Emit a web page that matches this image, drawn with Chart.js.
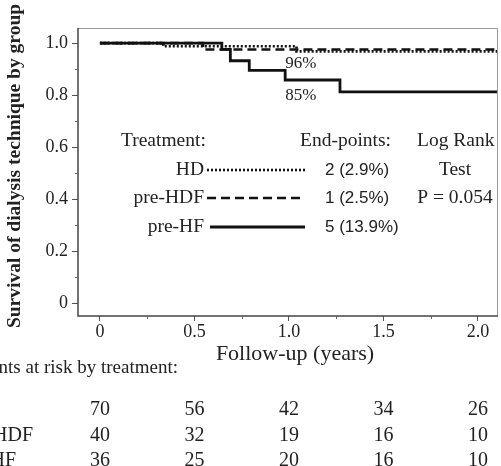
<!DOCTYPE html>
<html><head><meta charset="utf-8">
<script src="https://cdn.jsdelivr.net/npm/chart.js@4/dist/chart.umd.min.js"></script>
<style>html,body{margin:0;padding:0;background:#fff;}#wrap{width:501px;height:466px;}</style>
</head><body><div id="wrap"><canvas id="c" width="501" height="466"></canvas></div>
<script>
// Kaplan-Meier step data (time in years, survival)
const hdTimes = [0, 0.335, 1.04, 2.11];
const hdSurv  = [1.0, 0.988, 0.968, 0.968];
const hdfTimes = [0, 0.545, 2.11];
const hdfSurv  = [1.0, 0.975, 0.975];
const hfTimes = [0, 0.645, 0.69, 0.79, 0.98, 1.27, 2.11];
const hfSurv  = [1.0, 0.976, 0.932, 0.895, 0.858, 0.812, 0.812];

const xTickVals = [0, 0.5, 1.0, 1.5, 2.0];
const xTickLabels = ['0', '0.5', '1.0', '1.5', '2.0'];
const yTickVals = [0, 0.2, 0.4, 0.6, 0.8, 1.0];
const yTickLabels = ['0', '0.2', '0.4', '0.6', '0.8', '1.0'];

const groups = ['HD', 'pre-HDF', 'pre-HF'];
const endPoints = ['2 (2.9%)', '1 (2.5%)', '5 (13.9%)'];
const riskHD  = [70, 56, 42, 34, 26];
const riskHDF = [40, 32, 19, 16, 10];
const riskHF  = [36, 25, 20, 16, 10];
const curveLabels = [{x: 0.98, y: 0.92, t: '96%'}, {x: 0.98, y: 0.797, t: '85%'}];

const SERIF = '"Liberation Serif","Times New Roman",serif';
const SANS = '"Liberation Sans",Arial,sans-serif';
const TXT = '#222';

function pts(t, s) { return t.map((v, i) => ({x: v, y: s[i]})); }

const styles = [
  {dash: [2, 2], width: 2.6},
  {dash: [9, 5], width: 2.6},
  {dash: [], width: 2.8}
];

const overlay = {
  id: 'overlay',
  afterDraw(chart) {
    const ctx = chart.ctx, xs = chart.scales.x, ys = chart.scales.y, a = chart.chartArea;
    ctx.save();
    // frame
    ctx.strokeStyle = '#9a9a9a'; ctx.lineWidth = 1;
    ctx.beginPath(); ctx.moveTo(a.left, a.top + 0.5); ctx.lineTo(a.right - 0.5, a.top + 0.5); ctx.lineTo(a.right - 0.5, a.bottom); ctx.stroke();
    ctx.strokeStyle = '#444'; ctx.lineWidth = 1.5;
    ctx.beginPath(); ctx.moveTo(a.left, a.top); ctx.lineTo(a.left, a.bottom); ctx.lineTo(a.right, a.bottom); ctx.stroke();
    // minor ticks
    ctx.strokeStyle = '#666'; ctx.lineWidth = 1;
    for (let v = 0.1; v < 1.0; v += 0.2) {
      const y = Math.round(ys.getPixelForValue(v)) + 0.5;
      ctx.beginPath(); ctx.moveTo(a.left - 3, y); ctx.lineTo(a.left, y); ctx.stroke();
    }
    for (let v = 0.25; v < 2.0; v += 0.5) {
      const x = Math.round(xs.getPixelForValue(v)) + 0.5;
      ctx.beginPath(); ctx.moveTo(x, a.bottom); ctx.lineTo(x, a.bottom + 3); ctx.stroke();
    }
    // curve labels
    ctx.fillStyle = TXT; ctx.textBaseline = 'middle'; ctx.textAlign = 'left';
    ctx.font = '17px ' + SERIF;
    curveLabels.forEach(l => ctx.fillText(l.t, xs.getPixelForValue(l.x), ys.getPixelForValue(l.y)));
    // legend
    ctx.font = '19.5px ' + SERIF;
    ctx.fillText('Treatment:', 121, 141);
    ctx.fillText('End-points:', 300, 141);
    ctx.fillText('Log Rank', 417, 141);
    ctx.textAlign = 'center';
    ctx.fillText('Test', 455, 170);
    ctx.fillText('P = 0.054', 455, 198);
    const rowY = [170, 198, 227];
    groups.forEach((g, i) => {
      ctx.textAlign = 'right'; ctx.font = '19.5px ' + SERIF; ctx.fillStyle = TXT;
      ctx.fillText(g, 204, rowY[i]);
      ctx.save();
      ctx.strokeStyle = '#111'; ctx.lineWidth = styles[i].width; ctx.setLineDash(styles[i].dash);
      ctx.beginPath(); ctx.moveTo(i === 2 ? 210 : 207, rowY[i]); ctx.lineTo(305, rowY[i]); ctx.stroke();
      ctx.restore();
      ctx.textAlign = 'left'; ctx.font = '17px ' + SANS;
      ctx.fillText(endPoints[i], 325, rowY[i]);
    });
    // axis titles
    ctx.fillStyle = TXT;
    ctx.textBaseline = 'alphabetic';
    ctx.font = '22px ' + SERIF; ctx.textAlign = 'center';
    ctx.fillText('Follow-up (years)', 295, 360);
    ctx.save();
    ctx.translate(20, 166); ctx.rotate(-Math.PI / 2);
    ctx.font = 'bold 19.5px ' + SERIF;
    ctx.fillText('Survival of dialysis technique by group', 0, 0);
    ctx.restore();
    // risk table
    ctx.font = '19px ' + SERIF; ctx.textAlign = 'right';
    ctx.fillText('Patients at risk by treatment:', 178, 373);
    const tblY = [415, 441, 466];
    const lblX = [-40, 33, 16];
    [riskHD, riskHDF, riskHF].forEach((row, r) => {
      ctx.textAlign = 'right'; ctx.font = '20px ' + SERIF;
      ctx.fillText(groups[r], lblX[r], tblY[r]);
      ctx.textAlign = 'center';
      row.forEach((n, i) => ctx.fillText(String(n), xs.getPixelForValue(xTickVals[i]), tblY[r]));
    });
    ctx.restore();
  }
};

new Chart(document.getElementById('c'), {
  type: 'line',
  data: {
    datasets: [
      {label: 'HD', data: pts(hdTimes, hdSurv), borderColor: '#111', borderWidth: styles[0].width, borderDash: styles[0].dash, stepped: true, pointRadius: 0, fill: false},
      {label: 'pre-HDF', data: pts(hdfTimes, hdfSurv), borderColor: '#111', borderWidth: styles[1].width, borderDash: styles[1].dash, stepped: true, pointRadius: 0, fill: false},
      {label: 'pre-HF', data: pts(hfTimes, hfSurv), borderColor: '#111', borderWidth: styles[2].width, borderDash: styles[2].dash, stepped: true, pointRadius: 0, fill: false}
    ]
  },
  options: {
    responsive: false, animation: false, devicePixelRatio: 1,
    layout: {padding: {left: 0, right: 3, top: 28, bottom: 0}},
    plugins: {legend: {display: false}, tooltip: {enabled: false}},
    scales: {
      x: {
        type: 'linear', min: -0.116, max: 2.106,
        afterBuildTicks: s => { s.ticks = xTickVals.map(v => ({value: v})); },
        afterFit: s => { s.height = 150; },
        ticks: {callback: (v, i) => xTickLabels[i], color: TXT, font: {family: SERIF, size: 18}, padding: 0, maxRotation: 0, autoSkip: false},
        grid: {drawOnChartArea: false, tickLength: 5, color: '#555', tickColor: '#555'},
        border: {display: false}
      },
      y: {
        type: 'linear', min: -0.05, max: 1.058,
        afterBuildTicks: s => { s.ticks = yTickVals.map(v => ({value: v})); },
        afterFit: s => { s.width = 78; },
        ticks: {callback: (v, i) => yTickLabels[i], color: TXT, font: {family: SERIF, size: 18}, padding: 4, autoSkip: false},
        grid: {drawOnChartArea: false, tickLength: 6, color: '#555', tickColor: '#555'},
        border: {display: false}
      }
    }
  },
  plugins: [overlay]
});
</script></body></html>
